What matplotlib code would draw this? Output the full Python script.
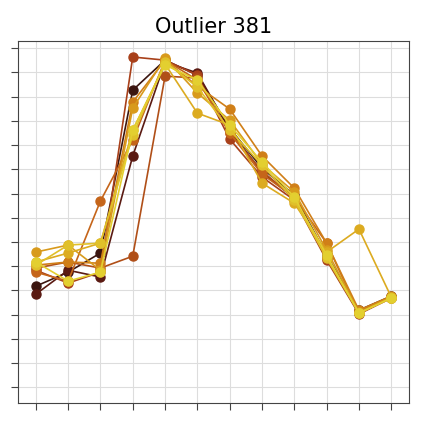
import numpy as np
import matplotlib.pyplot as plt

x = np.arange(12)

# series values (tick units), darkest to lightest
s1 = [4.17, 4.75, 5.54, 12.27, 13.51, 12.89, 10.70, 9.05, 7.93, 5.45, 3.18, 3.76]
s2 = [3.84, 4.83, 4.55, 9.55, 13.43, 12.98, 10.62, 8.88, 7.81, 5.33, 3.10, 3.72]
s3 = [4.83, 4.30, 4.75, 13.64, 13.51, 12.89, 10.25, 8.68, 7.73, 5.25, 3.02, 3.68]
s4 = [4.92, 5.17, 4.92, 5.41, 12.85, 12.77, 10.50, 8.93, 7.81, 5.33, 3.10, 3.72]
s5 = [4.75, 4.38, 7.69, 10.21, 13.51, 12.69, 10.50, 8.80, 7.85, 5.95, 3.06, 3.68]
s6 = [5.04, 5.17, 5.12, 11.78, 13.51, 12.44, 11.49, 9.55, 8.22, 5.95, 3.18, 3.76]
s7 = [5.58, 5.87, 4.83, 11.53, 13.60, 12.15, 11.03, 9.21, 8.06, 5.66, 3.10, 3.72]
s8 = [5.17, 5.54, 5.95, 10.62, 13.35, 11.32, 10.83, 8.43, 7.60, 5.58, 6.53, 3.72]
s9 = [5.04, 5.87, 5.95, 10.41, 13.43, 12.40, 10.62, 9.17, 7.73, 5.33, 3.06, 3.68]
s10 = [5.17, 4.38, 4.75, 10.62, 13.31, 12.69, 10.83, 9.30, 7.85, 5.45, 3.06, 3.68]

series = [s1, s2, s3, s4, s5, s6, s7, s8, s9, s10]
colors = ['#3b1510', '#5a1a12', '#a8401a', '#b04f18', '#c5651a',
          '#d07f18', '#d89a1c', '#dcab20', '#e0c02a', '#e3cf30']

fig = plt.figure(figsize=(4.23, 4.23), dpi=100)
ax = fig.add_axes([0.0426, 0.047, 0.9244, 0.856])

for ys, c in zip(series, colors):
    ax.plot(x, ys, color=c, marker='o', markersize=6.5, linewidth=1.2)

ax.set_xlim(-0.55, 11.55)
ax.set_ylim(-0.66, 14.30)
ax.set_xticks(x)
ax.set_yticks(np.arange(15))
ax.set_xticklabels([])
ax.set_yticklabels([])
ax.tick_params(direction='out', length=5, color='#444444')
ax.grid(True, color='#dddddd', linewidth=0.8)
ax.set_axisbelow(True)
for sp in ax.spines.values():
    sp.set_color('#444444')
ax.set_title('Outlier 381', fontsize=15)

fig.savefig('out.png', dpi=100)
